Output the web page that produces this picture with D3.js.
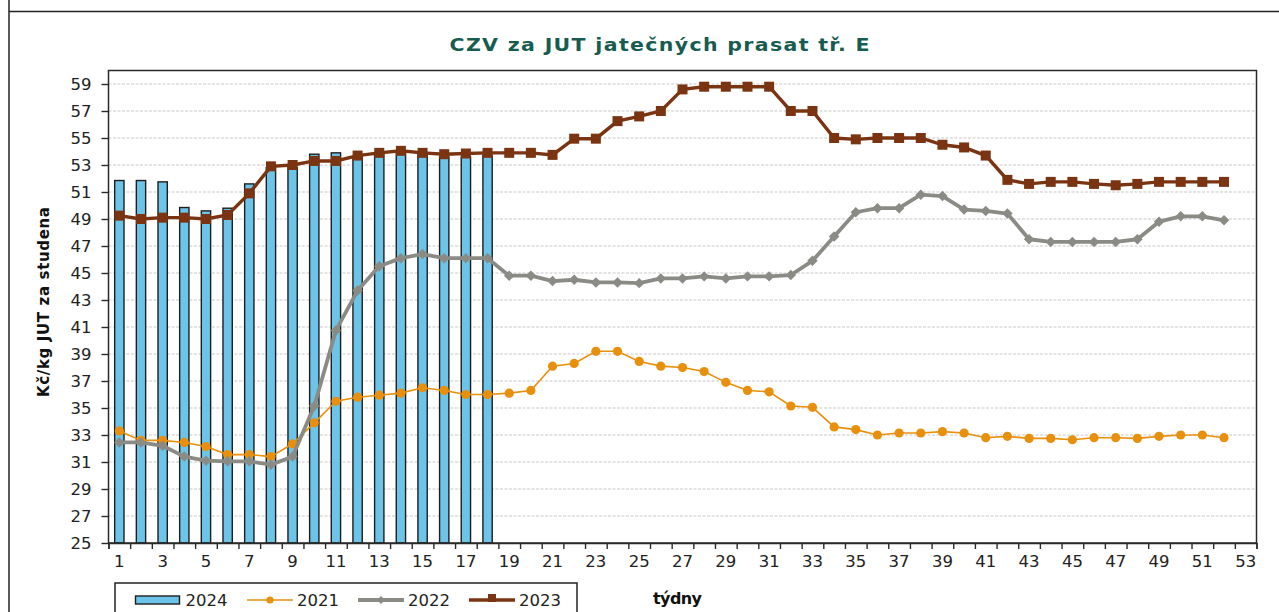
<!DOCTYPE html>
<html>
<head>
<meta charset="utf-8">
<script src="https://cdn.jsdelivr.net/npm/d3@7"></script>
<style>
html,body{margin:0;padding:0;background:#fff;}
svg{display:block;}
text{font-family:"DejaVu Sans",Verdana,sans-serif;}
</style>
</head>
<body>
<svg id="chart" width="1279" height="612"></svg>
<script>
// ---- data ----
const weeks = d3.range(1, 54);               // categories 1..53
const xTickLabels = d3.range(1, 54, 2);      // 1,3,...,53
const yTickLabels = d3.range(25, 60, 2);     // 25,27,...,59
const seriesNames = ["2024", "2021", "2022", "2023"];
const bars2024 = [51.85,51.85,51.75,49.85,49.6,49.8,51.6,52.8,52.8,53.8,53.9,53.6,53.8,53.9,53.8,53.6,53.6,53.7];
const s2021 = [33.3,32.6,32.6,32.45,32.15,31.55,31.55,31.4,32.35,33.9,35.5,35.8,35.95,36.1,36.5,36.3,36.0,36.0,36.1,36.3,38.1,38.3,39.2,39.2,38.45,38.1,38.0,37.7,36.9,36.3,36.2,35.15,35.05,33.6,33.4,33.0,33.15,33.15,33.25,33.15,32.8,32.9,32.75,32.75,32.65,32.8,32.8,32.75,32.9,33.0,33.0,32.8];
const s2022 = [32.45,32.45,32.2,31.4,31.1,31.05,31.05,30.8,31.4,35.15,40.75,43.7,45.5,46.1,46.4,46.1,46.1,46.1,44.8,44.8,44.4,44.5,44.3,44.3,44.25,44.6,44.6,44.75,44.6,44.75,44.75,44.85,45.9,47.7,49.5,49.8,49.8,50.8,50.7,49.7,49.6,49.4,47.5,47.3,47.3,47.3,47.3,47.5,48.8,49.2,49.2,48.9];
const s2023 = [49.25,49.0,49.1,49.1,49.0,49.3,50.9,52.9,53.0,53.3,53.3,53.7,53.9,54.05,53.9,53.8,53.85,53.9,53.9,53.9,53.75,54.95,54.95,56.25,56.6,57.0,58.6,58.8,58.8,58.8,58.8,57.0,57.0,55.0,54.9,55.0,55.0,55.0,54.5,54.3,53.7,51.9,51.6,51.75,51.75,51.6,51.5,51.6,51.75,51.75,51.75,51.75];

const titleText = "CZV za JUT jatečných prasat tř. E";
const yTitle = "Kč/kg JUT za studena";
const xTitle = "týdny";

// ---- styles ----
const C = {bar:"#6cc4e8", barStroke:"#1e1e1e", s2021:"#e8900e", s2022:"#8b8b86", s2023:"#7a3412", title:"#175c50", grid:"#c9c9c9", axis:"#2a2a2a"};

const svg = d3.select("#chart");
const L = 108.5, R = 1256.5, T = 70.5, B = 543;

// outer frame
svg.append("line").attr("x1",9).attr("x2",9).attr("y1",0).attr("y2",612).attr("stroke","#222").attr("stroke-width",1.5);
svg.append("line").attr("x1",9).attr("x2",1279).attr("y1",11.5).attr("y2",11.5).attr("stroke","#222").attr("stroke-width",1.5);

const x = d3.scaleBand().domain(weeks).range([L, R]).padding(0);
const xB = d3.scaleLinear().domain([0, weeks.length]).range([L, R]);
const y = d3.scaleLinear().domain([25, 60]).range([B, T]);

// gridlines
svg.append("g").selectAll("line").data(yTickLabels.filter(v => v > 25)).join("line")
  .attr("x1", L).attr("x2", R).attr("y1", d => y(d)).attr("y2", d => y(d))
  .attr("stroke", C.grid).attr("stroke-width", 1).attr("stroke-dasharray", "3,1.5");

// bars 2024
svg.append("g").selectAll("rect").data(bars2024).join("rect")
  .attr("x", (d,i) => x(weeks[i]) + x.bandwidth()*0.285)
  .attr("width", x.bandwidth()*0.43)
  .attr("y", d => y(d))
  .attr("height", d => y(25) - y(d))
  .attr("fill", C.bar).attr("stroke", C.barStroke).attr("stroke-width", 1.4);

const cx = i => x(weeks[i]) + x.bandwidth()/2;
const line = d3.line().x((d,i) => cx(i)).y(d => y(d));

// 2021
svg.append("path").datum(s2021).attr("d", line).attr("fill","none").attr("stroke",C.s2021).attr("stroke-width",1.6);
svg.append("g").selectAll("circle").data(s2021).join("circle")
  .attr("cx",(d,i)=>cx(i)).attr("cy",d=>y(d)).attr("r",4.6).attr("fill",C.s2021);

// 2022
svg.append("path").datum(s2022).attr("d", line).attr("fill","none").attr("stroke",C.s2022).attr("stroke-width",3.8).attr("stroke-linejoin","round");
const dia = d3.symbol().type(d3.symbolDiamond2).size(70);
svg.append("g").selectAll("path").data(s2022).join("path")
  .attr("d", dia).attr("transform",(d,i)=>`translate(${cx(i)},${y(d)})`).attr("fill",C.s2022);

// 2023
svg.append("path").datum(s2023).attr("d", line).attr("fill","none").attr("stroke",C.s2023).attr("stroke-width",3.4);
svg.append("g").selectAll("rect").data(s2023).join("rect")
  .attr("x",(d,i)=>cx(i)-5).attr("y",d=>y(d)-5).attr("width",10).attr("height",10).attr("fill",C.s2023);

// plot border
svg.append("rect").attr("x",L).attr("y",T).attr("width",R-L).attr("height",B-T)
  .attr("fill","none").attr("stroke",C.axis).attr("stroke-width",1.5);

// y axis
const yAx = svg.append("g").attr("transform",`translate(${L},0)`)
  .call(d3.axisLeft(y).tickValues(yTickLabels).tickSize(7).tickPadding(10).tickFormat(d3.format("d")));
yAx.select(".domain").remove();
yAx.selectAll("line").attr("stroke",C.axis).attr("stroke-width",1.4);
yAx.selectAll("text").attr("font-size","16.5px").attr("fill","#222");

// x axis tick marks at category boundaries
const xAx = svg.append("g").attr("transform",`translate(0,${B})`)
  .call(d3.axisBottom(xB).tickValues(d3.range(0, weeks.length+1)).tickSize(6).tickFormat(""));
xAx.select(".domain").attr("stroke",C.axis).attr("stroke-width",1.5);
xAx.selectAll("line").attr("stroke",C.axis).attr("stroke-width",1.4);
// x labels
const xLab = svg.append("g").attr("transform",`translate(0,${B})`)
  .call(d3.axisBottom(x).tickValues(xTickLabels).tickSize(0).tickPadding(12));
xLab.select(".domain").remove();
xLab.selectAll("text").attr("font-size","16.5px").attr("fill","#222");

// title (horizontally widened to mimic the wide bold face)
const sx = 1.14;
svg.append("g").attr("transform",`translate(659.5,51) scale(${sx},1)`)
  .append("text").attr("x",0).attr("y",0).attr("text-anchor","middle")
  .attr("font-size","18px").attr("font-weight","bold").attr("fill",C.title)
  .attr("textLength",420/sx).attr("lengthAdjust","spacing").text(titleText);

// y title
svg.append("text").attr("transform","translate(49,302) rotate(-90)").attr("text-anchor","middle")
  .attr("font-size","15px").attr("font-weight","bold").attr("fill","#111")
  .attr("textLength",190).attr("lengthAdjust","spacing").text(yTitle);

// x title
svg.append("text").attr("x",653).attr("y",604).attr("font-size","16px").attr("font-weight","bold").attr("fill","#111")
  .attr("textLength",49).attr("lengthAdjust","spacing").text(xTitle);

// legend
const lg = svg.append("g");
lg.append("rect").attr("x",115).attr("y",583).attr("width",462).attr("height",40).attr("fill","#fff").attr("stroke","#222").attr("stroke-width",1.5);
const legendX = [135.5, 247, 358, 469];
const legendColors = [C.bar, C.s2021, C.s2022, C.s2023];
seriesNames.forEach((name, i) => {
  const x0 = legendX[i], ly = 600;
  if (i === 0) {
    lg.append("rect").attr("x",x0).attr("y",596).attr("width",44).attr("height",8).attr("fill",C.bar).attr("stroke",C.barStroke).attr("stroke-width",1.4);
  } else {
    lg.append("line").attr("x1",x0).attr("x2",x0+46).attr("y1",ly).attr("y2",ly).attr("stroke",legendColors[i]).attr("stroke-width",[0,1.6,3.8,3.4][i]);
    if (i === 1) lg.append("circle").attr("cx",x0+23).attr("cy",ly).attr("r",3.6).attr("fill",C.s2021);
    if (i === 2) lg.append("path").attr("d",d3.symbol().type(d3.symbolDiamond2).size(40)).attr("transform",`translate(${x0+23},${ly})`).attr("fill",C.s2022);
    if (i === 3) lg.append("rect").attr("x",x0+19).attr("y",ly-6).attr("width",8).attr("height",8).attr("fill",C.s2023);
  }
  lg.append("text").attr("x", x0 + 50).attr("y", 606).attr("font-size","16.5px").attr("fill","#222").text(name);
});
</script>
</body>
</html>
